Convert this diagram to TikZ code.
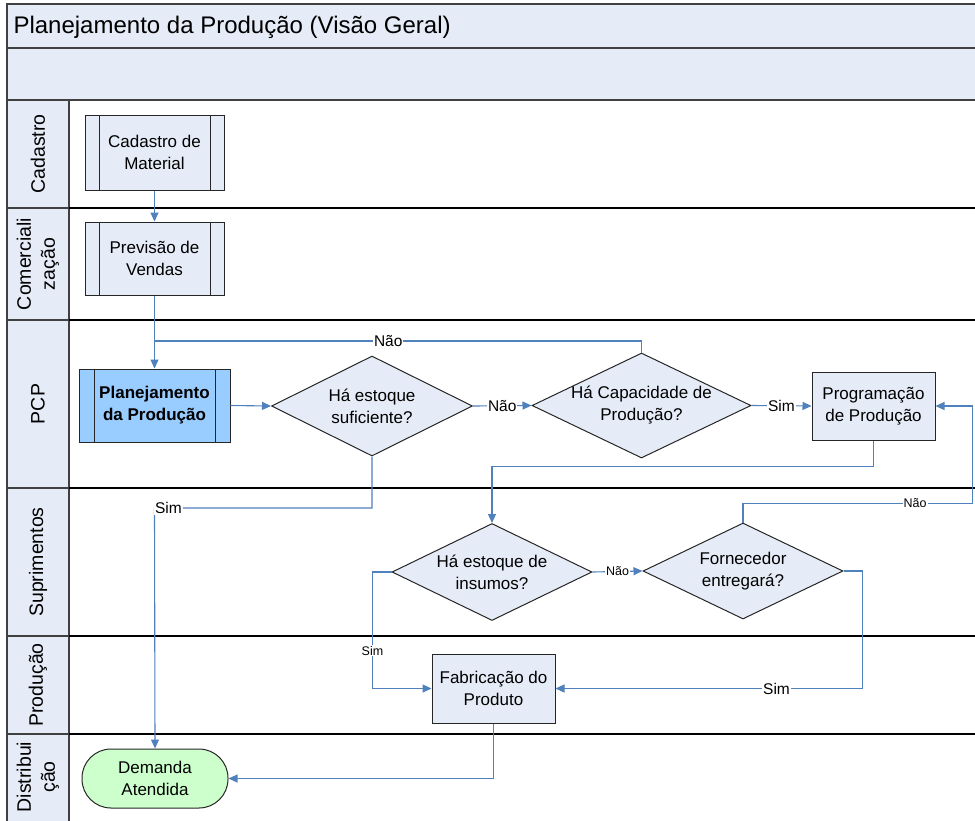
\documentclass[tikz,border=0pt]{standalone}
\usepackage{fontspec}
\setmainfont{Liberation Sans}
\usetikzlibrary{shapes.geometric,arrows.meta,calc}
\definecolor{hdr}{HTML}{E6ECF7}
\definecolor{nodefill}{HTML}{E6ECF7}
\definecolor{linkc}{HTML}{4F81BD}
\definecolor{planfill}{HTML}{99CCFF}
\definecolor{demfill}{HTML}{CCFFCC}
\newcommand{\fsz}[2]{\fontsize{#1}{#2}\selectfont}
\begin{document}
\begin{tikzpicture}[x=1pt,y=-1pt,
  hdrbox/.style={draw=black!75, fill=hdr, line width=1.2pt},
  lanelbl/.style={rotate=90, align=center, font=\fsz{19.5}{24}},
  proc/.style={draw=black!85, fill=nodefill, line width=1pt, inner sep=0pt, align=center, font=\fsz{17}{22}},
  predef/.style={proc, path picture={\draw[black!85,line width=1pt]
     ([xshift=#1]path picture bounding box.north west) -- ([xshift=#1]path picture bounding box.south west)
     ([xshift=-#1]path picture bounding box.north east) -- ([xshift=-#1]path picture bounding box.south east);}},
  dia/.style={diamond, draw=black!85, fill=nodefill, line width=1pt, inner sep=0pt},
  diatxt/.style={align=center, font=\fsz{17}{22}},
  link/.style={draw=linkc, line width=1.1pt},
  arr/.style={link, -{Triangle[length=9pt,width=8pt]}},
  lbl/.style={fill=white, inner sep=1pt, font=\fsz{15.5}{18}},
  slbl/.style={fill=white, inner sep=1pt, font=\fsz{12.5}{15}}
]
\fill[white] (0,0) rectangle (975,820);
\useasboundingbox (0,0) rectangle (975,820);

% header rows
\draw[hdrbox] (7,4) rectangle (985,48);
\draw[hdrbox] (7,48) rectangle (985,100);
\node[anchor=west, font=\fsz{24}{28}] (title) at (10,27) {Planejamento da Produção (Visão Geral)};

% lane label column
\foreach \a/\b in {100/208,208/320,320/488,488/636,636/734,734/830}{
  \draw[draw=black!75, fill=hdr, line width=1.2pt] (7,\a) rectangle (69,\b);
}
\foreach \yy in {208,320,488,636,734}{
  \draw[black, line width=1.3pt] (69,\yy) -- (985,\yy);
}
\node[lanelbl] (l1) at (38,154) {Cadastro};
\node[lanelbl] (l2) at (38,264) {Comerciali\\zação};
\node[lanelbl] (l3) at (38,404) {PCP};
\node[lanelbl] (l4) at (38,562) {Suprimentos};
\node[lanelbl] (l5) at (38,685) {Produção};
\node[lanelbl] (l6) at (38,777) {Distribui\\ção};

% nodes
\node[predef=14pt, minimum width=139pt, minimum height=75pt] (cad) at (154.5,152.5) {Cadastro de\\Material};
\node[predef=14pt, minimum width=139pt, minimum height=73pt] (prev) at (154.5,258.5) {Previsão de\\Vendas};
\node[predef=15pt, fill=planfill, minimum width=151pt, minimum height=73pt, font=\fsz{17}{22}\bfseries] (plan) at (154.5,405.5) {Planejamento\\da Produção};
\node[dia, minimum width=201pt, minimum height=100pt,
      label={[diatxt]center:Há estoque\\suficiente?}] (d1) at (372,406) {};
\node[dia, minimum width=219pt, minimum height=105pt,
      label={[diatxt]center:Há Capacidade de\\Produção?}] (d2) at (641.5,405.5) {};
\node[proc, minimum width=123pt, minimum height=68pt] (prog) at (873.5,406) {Programação\\de Produção};
\node[dia, minimum width=200pt, minimum height=97pt,
      label={[diatxt]center:Há estoque de\\insumos?}] (d3) at (492,572) {};
\node[dia, minimum width=200pt, minimum height=96pt,
      label={[diatxt]center:Fornecedor\\entregará?}] (d4) at (743,571) {};
\node[proc, minimum width=123pt, minimum height=69pt] (fab) at (493.5,688.5) {Fabricação do\\Produto};
\node[proc, draw=black!85, fill=demfill, rounded corners=29pt, minimum width=146pt, minimum height=59pt] (dem) at (155,778.5) {Demanda\\Atendida};

% connectors
\coordinate (j1) at (154.5,341);
\coordinate (j2) at (154.5,508);
\draw[arr] (cad.south) -- (prev.north);
\draw[arr] (prev.south) -- (plan.north);
\draw[link] (d2.north) |- node[lbl, pos=0.76] {Não} (j1);
\draw[arr] (plan.east) -- (d1.west);
\draw[arr] (d1.east) -- node[lbl] {Não} (d2.west);
\draw[arr] (d2.east) -- node[lbl] {Sim} (prog.west);
\draw[arr] (d1.south) |- (j2) node[lbl, xshift=14pt] {Sim} -- (dem.north);
\draw[arr] (prog.south) -- ++(0,26) -| (d3.north);
\draw[arr] (d3.east) -- node[slbl] {Não} (d4.west);
\draw[arr] (d4.north) -- ++(0,-19) -| node[slbl, pos=0.375] {Não} ($(prog.east)+(37,0)$) -- (prog.east);
\draw[arr] (d3.west) -- ++(-19,0) |- node[slbl, pos=0.3375] {Sim} (fab.west);
\draw[arr] (d4.east) -- ++(19,0) |- node[lbl, pos=0.64] {Sim} (fab.east);
\draw[arr] (fab.south) |- (dem.east);
\end{tikzpicture}
\end{document}
